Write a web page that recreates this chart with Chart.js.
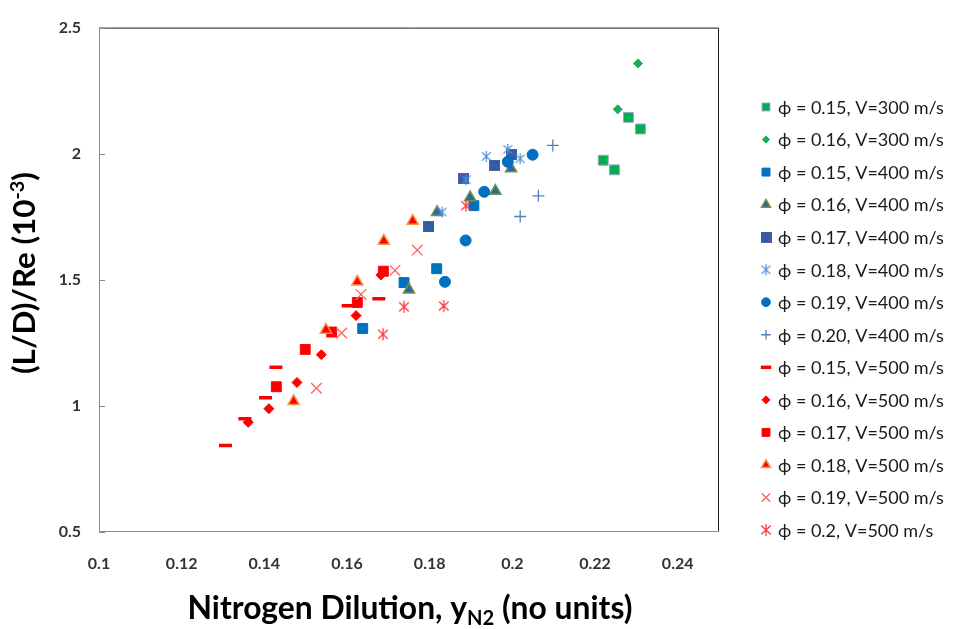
<!DOCTYPE html>
<html>
<head>
<meta charset="utf-8">
<script src="https://cdn.jsdelivr.net/npm/chart.js@4.4.1/dist/chart.umd.min.js"></script>
<style>
  html, body { margin: 0; padding: 0; background: #fff; }
  #wrap { width: 953px; height: 629px; }
</style>
</head>
<body>
<div id="wrap"><canvas id="chart" width="953" height="629"></canvas></div>
<script>
// Values: x = nitrogen dilution, y = (L/D)/Re in 1e-3
const seriesLabels = [
    'ϕ = 0.15, V=300 m/s', 'ϕ = 0.16, V=300 m/s',
    'ϕ = 0.15, V=400 m/s', 'ϕ = 0.16, V=400 m/s', 'ϕ = 0.17, V=400 m/s',
    'ϕ = 0.18, V=400 m/s', 'ϕ = 0.19, V=400 m/s', 'ϕ = 0.20, V=400 m/s',
    'ϕ = 0.15, V=500 m/s', 'ϕ = 0.16, V=500 m/s', 'ϕ = 0.17, V=500 m/s',
    'ϕ = 0.18, V=500 m/s', 'ϕ = 0.19, V=500 m/s', 'ϕ = 0.2, V=500 m/s'
];

const p15v300X = [0.2281, 0.2310, 0.2220, 0.2247];
const p15v300Y = [2.144, 2.098, 1.974, 1.936];
const p16v300X = [0.2304, 0.2255];
const p16v300Y = [2.358, 2.176];

const p15v400X = [0.1817, 0.1738, 0.1638, 0.1907];
const p15v400Y = [1.544, 1.489, 1.307, 1.794];
const p16v400X = [0.1750, 0.1818, 0.1898, 0.1959, 0.1997];
const p16v400Y = [1.461, 1.768, 1.826, 1.852, 1.941];
const p17v400X = [0.1798, 0.1883, 0.1958, 0.1999];
const p17v400Y = [1.710, 1.900, 1.955, 1.996];
const p18v400X = [0.1937, 0.1989, 0.2019, 0.1888, 0.1830];
const p18v400Y = [1.989, 2.017, 1.980, 1.897, 1.769];
const p19v400X = [0.2049, 0.1989, 0.1932, 0.1887, 0.1837];
const p19v400Y = [1.996, 1.968, 1.849, 1.656, 1.492];
const p20v400X = [0.2098, 0.2063, 0.2019];
const p20v400Y = [2.033, 1.833, 1.751];

const p15v500X = [0.1306, 0.1353, 0.1403, 0.1428, 0.1603, 0.1677];
const p15v500Y = [0.843, 0.949, 1.032, 1.153, 1.397, 1.425];
const p16v500X = [0.1361, 0.1411, 0.1479, 0.1538, 0.1622, 0.1682];
const p16v500Y = [0.935, 0.989, 1.093, 1.203, 1.358, 1.519];
const p17v500X = [0.1429, 0.1499, 0.1563, 0.1625, 0.1688];
const p17v500Y = [1.076, 1.224, 1.293, 1.410, 1.534];
const p18v500X = [0.1471, 0.1549, 0.1625, 0.1689, 0.1759];
const p18v500Y = [1.018, 1.301, 1.492, 1.654, 1.733];
const p19v500X = [0.1526, 0.1587, 0.1634, 0.1716, 0.1770];
const p19v500Y = [1.070, 1.289, 1.442, 1.537, 1.618];
const p20v500X = [0.1687, 0.1738, 0.1834, 0.1888];
const p20v500Y = [1.284, 1.393, 1.396, 1.794];

const xTickValues = [0.1, 0.12, 0.14, 0.16, 0.18, 0.2, 0.22, 0.24];
const xTickLabels = ['0.1', '0.12', '0.14', '0.16', '0.18', '0.2', '0.22', '0.24'];
const yTickValues = [0.5, 1, 1.5, 2, 2.5];
const yTickLabels = ['0.5', '1', '1.5', '2', '2.5'];

const FONT = 'Lato, "Noto Sans", "DejaVu Sans", sans-serif';

function pts(xs, ys) {
    return xs.map((x, i) => ({ x: x, y: ys[i] }));
}

// dark blue square with a thin cross, as in the 0.17 / 400 m/s marker
function crossedSquare() {
    const c = document.createElement('canvas');
    c.width = 11; c.height = 11;
    const g = c.getContext('2d');
    g.fillStyle = '#2B5CA8';
    g.fillRect(0, 0, 11, 11);
    g.strokeStyle = '#5C5A9E';
    g.lineWidth = 1;
    g.strokeRect(0.5, 0.5, 10, 10);
    g.beginPath();
    g.moveTo(2.5, 2.5); g.lineTo(8.5, 8.5);
    g.moveTo(8.5, 2.5); g.lineTo(2.5, 8.5);
    g.stroke();
    return c;
}

// Excel style star: vertical bar with an X through it
function asterisk(color, size) {
    const c = document.createElement('canvas');
    c.width = size; c.height = size;
    const g = c.getContext('2d');
    const m = size / 2, r = size / 2 - 1;
    g.strokeStyle = color;
    g.lineWidth = 1.3;
    g.beginPath();
    g.moveTo(m, m - r); g.lineTo(m, m + r);
    g.moveTo(m - r * 0.8, m - r * 0.75); g.lineTo(m + r * 0.8, m + r * 0.75);
    g.moveTo(m + r * 0.8, m - r * 0.75); g.lineTo(m - r * 0.8, m + r * 0.75);
    g.stroke();
    return c;
}

function series(i, xs, ys, style, radius, fill, border, bw) {
    return {
        label: seriesLabels[i],
        data: pts(xs, ys),
        showLine: false,
        pointStyle: style,
        pointRadius: radius,
        pointHoverRadius: radius,
        pointBackgroundColor: fill,
        pointBorderColor: border,
        pointBorderWidth: bw,
        order: seriesLabels.length - i
    };
}

const datasets = [
    series(0, p15v300X, p15v300Y, 'rect', 7, '#00B050', '#A39FC4', 1),
    series(1, p16v300X, p16v300Y, 'rectRot', 4.5, '#1AAE5A', '#1AAE5A', 1),
    series(2, p15v400X, p15v400Y, 'rect', 7, '#0070C0', '#0070C0', 1),
    series(3, p16v400X, p16v400Y, 'triangle', 6.5, '#2A66B0', '#77933C', 1.5),
    series(4, p17v400X, p17v400Y, crossedSquare(), 6, '#2B5CA8', '#5C5A9E', 1),
    series(5, p18v400X, p18v400Y, asterisk('#4A90D9', 13), 6, '#4A90D9', '#4A90D9', 1.3),
    series(6, p19v400X, p19v400Y, 'circle', 5.5, '#0070C0', '#0070C0', 1),
    series(7, p20v400X, p20v400Y, 'cross', 6, '#4F81BD', '#4F81BD', 1.3),
    series(8, p15v500X, p15v500Y, 'line', 6.5, '#FF0000', '#FF0000', 3.5),
    series(9, p16v500X, p16v500Y, 'rectRot', 5, '#FF0000', '#FF0000', 1),
    series(10, p17v500X, p17v500Y, 'rect', 7, '#FF0000', '#FF0000', 1),
    series(11, p18v500X, p18v500Y, 'triangle', 6.5, '#FF0000', '#F79646', 1.5),
    series(12, p19v500X, p19v500Y, 'crossRot', 7.5, '#FF6161', '#FF6161', 1.3),
    series(13, p20v500X, p20v500Y, asterisk('#FF3B3B', 14), 6.5, '#FF3B3B', '#FF3B3B', 1.3)
];

// plot frame: dark top/right, grey left/bottom, short inward ticks on y
const frame = {
    id: 'frame',
    beforeDatasetsDraw(chart) {
        const { ctx, chartArea: a, scales } = chart;
        ctx.save();
        ctx.lineWidth = 1;
        ctx.strokeStyle = '#1a1a1a';
        ctx.beginPath();
        ctx.moveTo(a.left, a.top + 0.5);
        ctx.lineTo(a.right - 0.5, a.top + 0.5);
        ctx.lineTo(a.right - 0.5, a.bottom);
        ctx.stroke();
        ctx.strokeStyle = '#8c8c8c';
        ctx.beginPath();
        ctx.moveTo(a.left + 0.5, a.top);
        ctx.lineTo(a.left + 0.5, a.bottom - 0.5);
        ctx.lineTo(a.right, a.bottom - 0.5);
        scales.y.ticks.forEach(t => {
            const py = Math.round(scales.y.getPixelForValue(t.value)) + 0.5;
            ctx.moveTo(a.left, py);
            ctx.lineTo(a.left + 6, py);
        });
        ctx.stroke();
        ctx.restore();
    }
};

// draw text runs (with sub/superscript) centred on cx, fitted to a width
function richText(ctx, parts, cx, baseY, targetWidth) {
    const measure = k => parts.reduce((w, p) => {
        ctx.font = 'bold ' + (p.size * k) + 'px ' + FONT;
        return w + ctx.measureText(p.text).width;
    }, 0);
    const k = targetWidth / measure(1);
    let x = cx - targetWidth / 2;
    ctx.textBaseline = 'alphabetic';
    ctx.textAlign = 'left';
    parts.forEach(p => {
        ctx.font = 'bold ' + (p.size * k) + 'px ' + FONT;
        ctx.fillText(p.text, x, baseY + p.dy * k);
        x += ctx.measureText(p.text).width;
    });
}

const axisTitles = {
    id: 'axisTitles',
    afterDraw(chart) {
        const ctx = chart.ctx;
        ctx.save();
        ctx.fillStyle = '#000';
        richText(ctx, [
            { text: 'Nitrogen Dilution, y', size: 30, dy: 0 },
            { text: 'N2', size: 19, dy: 6 },
            { text: ' (no units)', size: 30, dy: 0 }
        ], 410, 619, 445);
        ctx.translate(35, 273);
        ctx.rotate(-Math.PI / 2);
        richText(ctx, [
            { text: '(L/D)/Re (10', size: 30, dy: 0 },
            { text: '-3', size: 19, dy: -11 },
            { text: ')', size: 30, dy: 0 }
        ], 0, 0, 202);
        ctx.restore();
    }
};

// legend column on the right
const sideLegend = {
    id: 'sideLegend',
    afterDraw(chart) {
        const ctx = chart.ctx;
        const n = chart.data.datasets.length;
        const top = 107, step = (530 - 107) / (n - 1);
        ctx.save();
        ctx.font = '18px ' + FONT;
        ctx.textBaseline = 'middle';
        ctx.textAlign = 'left';
        chart.data.datasets.forEach((ds, i) => {
            const y = top + i * step;
            ctx.fillStyle = ds.pointBackgroundColor;
            ctx.strokeStyle = ds.pointBorderColor;
            ctx.lineWidth = ds.pointBorderWidth;
            Chart.helpers.drawPoint(ctx, {
                pointStyle: ds.pointStyle,
                radius: ds.pointRadius * 0.8,
                rotation: 0,
                borderWidth: ds.pointBorderWidth
            }, 766, y);
            ctx.fillStyle = '#1a1a1a';
            ctx.fillText(ds.label, 778, y + 1);
        });
        ctx.restore();
    }
};

new Chart(document.getElementById('chart'), {
    type: 'scatter',
    data: { datasets: datasets },
    options: {
        responsive: false,
        animation: false,
        devicePixelRatio: 1,
        layout: { padding: { top: 12, right: 234, bottom: 0, left: 0 } },
        plugins: {
            legend: { display: false },
            tooltip: { enabled: false }
        },
        scales: {
            x: {
                type: 'linear',
                min: 0.1,
                max: 0.25,
                afterBuildTicks: s => { s.ticks = xTickValues.map(v => ({ value: v })); },
                afterFit: s => { s.height = 97; },
                grid: { display: false, drawTicks: false },
                border: { display: false },
                ticks: {
                    padding: 22,
                    color: '#333',
                    font: { family: FONT, size: 16, weight: 'bold' },
                    callback: (v, i) => xTickLabels[i]
                }
            },
            y: {
                type: 'linear',
                min: 0.5,
                max: 2.5,
                afterBuildTicks: s => { s.ticks = yTickValues.map(v => ({ value: v })); },
                afterFit: s => { s.width = 99; },
                grid: { display: false, drawTicks: false },
                border: { display: false },
                ticks: {
                    padding: 18,
                    color: '#333',
                    font: { family: FONT, size: 16, weight: 'bold' },
                    callback: (v, i) => yTickLabels[i]
                }
            }
        }
    },
    plugins: [frame, axisTitles, sideLegend]
});
</script>
</body>
</html>
